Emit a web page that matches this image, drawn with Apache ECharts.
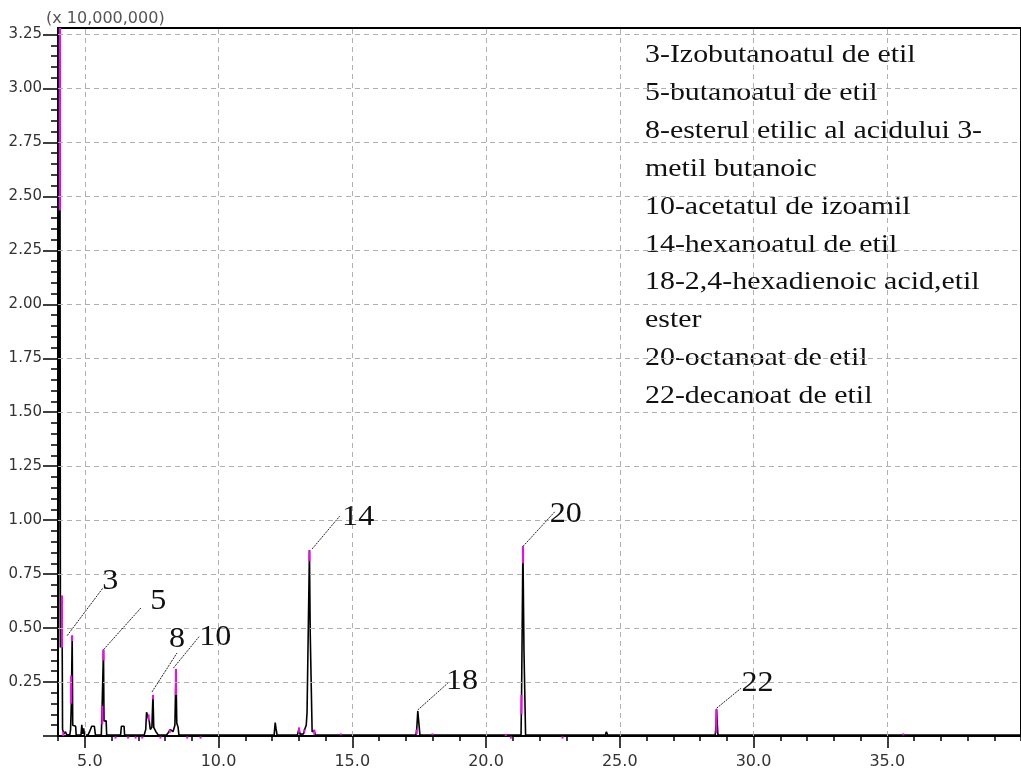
<!DOCTYPE html>
<html>
<head>
<meta charset="utf-8">
<script src="https://cdn.jsdelivr.net/npm/echarts@6/dist/echarts.min.js"></script>
<style>
  html, body { margin: 0; padding: 0; background: #fff; }
  #chart { width: 1021px; height: 770px; }
</style>
</head>
<body>
<div id="chart"></div>
<script>
// Total ion chromatogram: retention time (min) vs abundance (x 10,000,000)
const trace = [
  [4.00, 0.0], [4.05, 0.0], [4.07, 3.40], [4.09, 0.41], [4.12, 0.41], [4.15, 0.65], [4.17, 0.03],
  [4.22, 0.01], [4.28, 0.02], [4.33, 0.005], [4.44, 0.005], [4.47, 0.03], [4.50, 0.16], [4.53, 0.465],
  [4.55, 0.05], [4.57, 0.045], [4.66, 0.045], [4.68, 0.004], [4.86, 0.004], [4.89, 0.052], [4.92, 0.01],
  [4.96, 0.035], [4.99, 0.004], [5.12, 0.004], [5.18, 0.02], [5.26, 0.045], [5.36, 0.045], [5.40, 0.004],
  [5.62, 0.004], [5.65, 0.14], [5.70, 0.40], [5.72, 0.07], [5.80, 0.07], [5.82, 0.004], [6.34, 0.004],
  [6.37, 0.045], [6.47, 0.045], [6.49, 0.004], [7.22, 0.004], [7.28, 0.03], [7.31, 0.11], [7.37, 0.105],
  [7.41, 0.07], [7.45, 0.03], [7.51, 0.04], [7.55, 0.19], [7.58, 0.04], [7.66, 0.02], [7.75, 0.004],
  [8.05, 0.004], [8.12, 0.015], [8.20, 0.03], [8.30, 0.02], [8.37, 0.05], [8.41, 0.31], [8.44, 0.06],
  [8.49, 0.04], [8.52, 0.004], [12.08, 0.004], [12.12, 0.062], [12.15, 0.035], [12.19, 0.004],
  [12.95, 0.004], [13.01, 0.035], [13.05, 0.008], [13.18, 0.01], [13.22, 0.03], [13.28, 0.05],
  [13.31, 0.108], [13.37, 0.11], [13.40, 0.86], [13.43, 0.47], [13.48, 0.47], [13.50, 0.02],
  [13.58, 0.025], [13.62, 0.004], [17.38, 0.004], [17.41, 0.03], [17.45, 0.116], [17.50, 0.116],
  [17.53, 0.004], [21.31, 0.004], [21.33, 0.19], [21.38, 0.878], [21.42, 0.395], [21.46, 0.395],
  [21.48, 0.004], [24.46, 0.004], [24.50, 0.02], [24.55, 0.004], [27.20, 0.004], [27.24, 0.01],
  [27.28, 0.004], [28.57, 0.004], [28.60, 0.05], [28.62, 0.124], [28.64, 0.07], [28.67, 0.004],
  [31.28, 0.004], [31.31, 0.01], [31.34, 0.004], [40.00, 0.004]
];

// Integrated (highlighted) parts of the trace: [time, from, to]
const highlighted = [
  [4.07, 2.435, 3.28], [4.15, 0.41, 0.65], [4.20, 0.0, 0.02], [4.53, 0.44, 0.465], [4.49, 0.15, 0.28],
  [5.70, 0.35, 0.40], [5.655, 0.055, 0.14], [7.55, 0.17, 0.19], [7.39, 0.07, 0.10], [8.41, 0.19, 0.31],
  [8.18, 0.015, 0.03], [13.40, 0.81, 0.86], [13.01, 0.015, 0.04], [13.21, 0.015, 0.03], [13.58, 0.005, 0.03],
  [17.41, 0.008, 0.03], [21.38, 0.80, 0.878], [21.325, 0.10, 0.19], [28.61, 0.015, 0.124],
  [6.15, -0.012, -0.002], [6.62, -0.012, -0.002], [6.90, -0.012, -0.002], [7.15, -0.012, -0.002],
  [7.83, -0.012, -0.002], [8.83, -0.012, -0.002], [9.33, -0.012, -0.002], [20.93, -0.012, -0.002],
  [22.86, -0.012, -0.002], [14.57, 0.004, 0.012], [18.00, 0.004, 0.012], [20.74, 0.0, 0.01], [35.60, 0.003, 0.012]
];

// Numbered peaks: [number, time, apex]
const peaks = [
  ['3', 4.53, 0.465], ['5', 5.70, 0.40], ['8', 7.55, 0.19], ['10', 8.41, 0.31],
  ['14', 13.40, 0.86], ['18', 17.45, 0.116], ['20', 21.38, 0.878], ['22', 28.62, 0.124]
];

// Peak identification list
const legendLines = [
  '3-Izobutanoatul de etil',
  '5-butanoatul de etil',
  '8-esterul etilic al acidului 3-',
  'metil butanoic',
  '10-acetatul de izoamil',
  '14-hexanoatul de etil',
  '18-2,4-hexadienoic acid,etil',
  'ester',
  '20-octanoat de etil',
  '22-decanoat de etil'
];

// Axis ticks
const timeMinorTicks = [];
for (let t = 4; t <= 40; t++) timeMinorTicks.push(t);
const timeMajorTicks = [5, 10, 15, 20, 25, 30, 35];
const abundMinorTicks = [];
for (let i = 0; i <= 65; i++) abundMinorTicks.push(Math.round(i * 5) / 100);
const abundMajorTicks = [];
for (let i = 0; i <= 13; i++) abundMajorTicks.push(i * 0.25);
const abundLabels = abundMajorTicks.filter(v => v > 0);

// Callout geometry in pixels, relative to each peak apex
const calloutLayout = [
  { start: [-5, 0], end: [31, -48], text: [38, -55] },
  { start: [0, 0], end: [37.4, -41.7], text: [54.7, -48.7] },
  { start: [-1, -3], end: [24, -42], text: [24, -56] },
  { start: [-2.6, -1], end: [23.1, -32.4], text: [39.4, -32.1] },
  { start: [2.7, -1.4], end: [30.4, -34.4], text: [48.7, -33.4] },
  { start: [0, -1], end: [29.9, -27.7], text: [44.2, -30] },
  { start: [0, 0], end: [31.9, -34.8], text: [42.9, -32.5] },
  { start: [0, -1], end: [24.3, -20.9], text: [41, -26.2] }
];

const chart = echarts.init(document.getElementById('chart'), null, { renderer: 'canvas' });

const tickLabelStyle = { color: '#333', fontFamily: 'DejaVu Sans' };

chart.setOption({
  animation: false,
  backgroundColor: '#fff',
  grid: {
    left: 58, top: 28, width: 974, height: 708,
    show: true, borderColor: '#000', borderWidth: 2, backgroundColor: 'transparent'
  },
  xAxis: [
    {
      type: 'value', min: 4, max: 40, interval: 1, position: 'bottom',
      axisLine: { show: true, onZero: false, lineStyle: { color: '#000', width: 2 } },
      axisTick: { show: true, length: 5, customValues: timeMinorTicks, lineStyle: { color: '#000', width: 1.5 } },
      axisLabel: { show: false },
      splitLine: { show: false }
    },
    {
      type: 'value', min: 4, max: 40, interval: 1, position: 'bottom',
      axisLine: { show: false },
      axisTick: { show: true, length: 12, customValues: timeMajorTicks, lineStyle: { color: '#000', width: 1.5 } },
      axisLabel: Object.assign({
        show: true, customValues: timeMajorTicks, margin: 18, fontSize: 16,
        formatter: v => (v < 10 ? '\u2007' : '') + v.toFixed(1)
      }, tickLabelStyle),
      splitLine: { show: false }
    }
  ],
  yAxis: [
    {
      type: 'value', min: 0, max: 3.28, position: 'left',
      axisLine: { show: true, onZero: false, lineStyle: { color: '#000', width: 2 } },
      axisTick: { show: true, length: 7, customValues: abundMinorTicks, lineStyle: { color: '#000', width: 1.5 } },
      axisLabel: { show: false },
      splitLine: { show: false }
    },
    {
      type: 'value', min: 0, max: 3.28, position: 'left',
      axisLine: { show: false },
      axisTick: { show: true, length: 15, customValues: abundMajorTicks, lineStyle: { color: '#000', width: 1.5 } },
      axisLabel: Object.assign({
        show: true, customValues: abundLabels, margin: 16, fontSize: 15,
        formatter: v => v.toFixed(2)
      }, tickLabelStyle),
      splitLine: { show: false }
    }
  ],
  graphic: {
    elements: [
      {
        type: 'text', x: 46, y: 19,
        style: { text: '(x 10,000,000)', fontFamily: 'DejaVu Sans', fontSize: 16, fill: '#555', verticalAlign: 'middle' }
      },
      {
        type: 'group', x: 645, y: 0, scaleX: 1.15,
        children: legendLines.map((s, i) => ({
          type: 'text', x: 0, y: 55.5 + i * 37.85,
          style: { text: s, fontFamily: 'Liberation Serif', fontSize: 26, fill: '#111', verticalAlign: 'middle' }
        }))
      }
    ]
  },
  series: [
    {
      // dashed reference grid
      type: 'line', xAxisIndex: 0, yAxisIndex: 0, data: [], z: 1, silent: true,
      markLine: {
        silent: true, symbol: 'none', animation: false,
        label: { show: false },
        lineStyle: { color: '#b0b0b0', type: [5, 4], width: 1 },
        data: timeMajorTicks.map(v => ({ xAxis: v }))
          .concat(abundLabels.map(v => ({ yAxis: v })))
      }
    },
    {
      type: 'line', xAxisIndex: 0, yAxisIndex: 0, data: trace,
      showSymbol: false, symbol: 'none', clip: true, z: 3,
      lineStyle: { color: '#000', width: 1.6 }
    },
    {
      type: 'custom', xAxisIndex: 0, yAxisIndex: 0, data: highlighted, z: 4, clip: false,
      renderItem(params, api) {
        const a = api.coord([api.value(0), api.value(1)]);
        const b = api.coord([api.value(0), api.value(2)]);
        return {
          type: 'line',
          shape: { x1: a[0], y1: a[1], x2: b[0], y2: b[1] },
          style: { stroke: '#ff00ff', lineWidth: 2 }
        };
      }
    },
    {
      type: 'custom', xAxisIndex: 0, yAxisIndex: 0, z: 5, clip: false,
      data: peaks.map(p => [p[1], p[2]]),
      renderItem(params, api) {
        const i = params.dataIndex;
        const p = api.coord([api.value(0), api.value(1)]);
        const L = calloutLayout[i];
        return {
          type: 'group',
          children: [
            {
              type: 'line',
              shape: { x1: p[0] + L.start[0], y1: p[1] + L.start[1], x2: p[0] + L.end[0], y2: p[1] + L.end[1] },
              style: { stroke: '#222', lineWidth: 1, lineDash: [2, 1] }
            },
            {
              type: 'text', x: p[0] + L.text[0], y: p[1] + L.text[1], scaleX: 1.07,
              style: {
                text: peaks[i][0], fontFamily: 'Liberation Serif', fontSize: 30, fill: '#111',
                align: 'center', verticalAlign: 'middle'
              }
            }
          ]
        };
      }
    }
  ]
});
</script>
</body>
</html>
